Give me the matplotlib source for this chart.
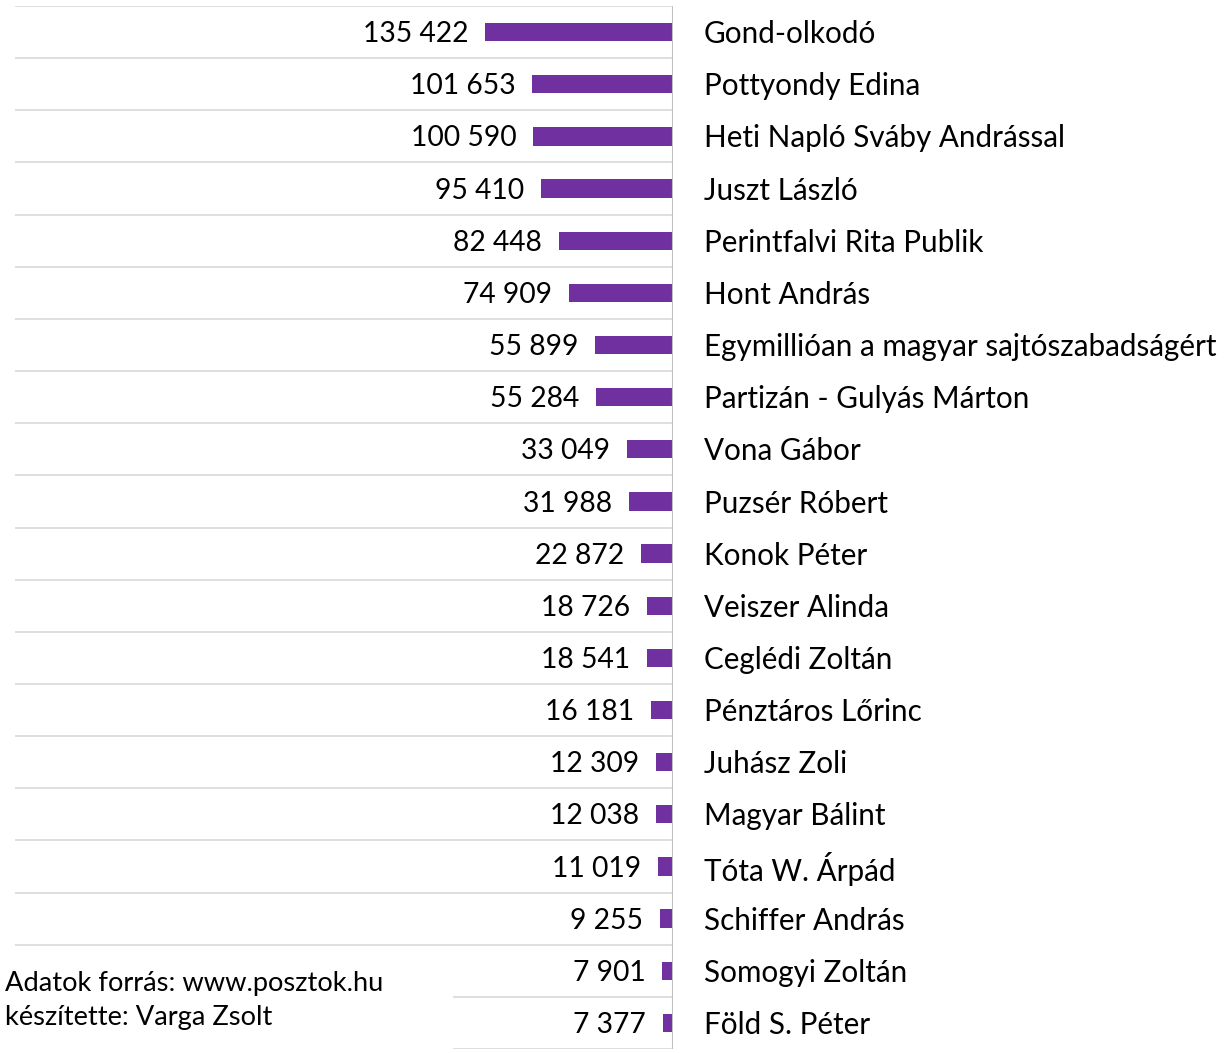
import matplotlib.pyplot as plt
from matplotlib.patches import Rectangle
from matplotlib.transforms import blended_transform_factory

plt.rcParams['font.family'] = ['Lato', 'DejaVu Sans']

nevek = ["Gond-olkodó", "Pottyondy Edina", "Heti Napló Sváby Andrással", "Juszt László",
         "Perintfalvi Rita Publik", "Hont András", "Egymillióan a magyar sajtószabadságért",
         "Partizán - Gulyás Márton", "Vona Gábor", "Puzsér Róbert", "Konok Péter",
         "Veiszer Alinda", "Ceglédi Zoltán", "Pénztáros Lőrinc", "Juhász Zoli",
         "Magyar Bálint", "Tóta W. Árpád", "Schiffer András", "Somogyi Zoltán", "Föld S. Péter"]
ertekek = [135422, 101653, 100590, 95410, 82448, 74909, 55899, 55284, 33049, 31988,
           22872, 18726, 18541, 16181, 12309, 12038, 11019, 9255, 7901, 7377]

lila = "#7030A0"
racs = "#D9D9D9"

fig = plt.figure(figsize=(12.3, 10.53), dpi=100)
ax = fig.add_axes([15 / 1230, 4 / 1053, 658 / 1230, 1043 / 1053])

y = list(range(len(nevek)))
ax.barh(y, ertekek, height=0.35, color=lila, zorder=3)
ax.set_xlim(474000, 0)
ax.set_ylim(len(nevek) - 0.5, -0.5)

# vízszintes rácsvonalak a sorok között
for i in range(len(nevek) + 1):
    ax.axhline(i - 0.5, color=racs, lw=1.2, zorder=1)
ax.axvline(0, color="#BFBFBF", lw=1.5, zorder=4)

for s in ax.spines.values():
    s.set_visible(False)
ax.set_xticks([])
ax.set_yticks([])

for i, v in enumerate(ertekek):
    ax.annotate(f"{v:,}".replace(",", " "), (v, i), xytext=(-12, -1.5), textcoords="offset points",
                ha="right", va="center", fontsize=20.3)

tr = blended_transform_factory(ax.transAxes, ax.transData)
for i, nev in enumerate(nevek):
    ax.annotate(nev, (1.047, i), xycoords=tr, xytext=(0, -1.5), textcoords="offset points",
                ha="left", va="center", fontsize=21.3)

# a forrás-szöveg eltakarja az alsó rácsvonalak bal oldalát
fig.patches.append(Rectangle((0, 0), 453 / 1230, 100 / 1053, transform=fig.transFigure,
                             facecolor="white", edgecolor="none", zorder=5))
fig.text(5 / 1230, 1 - 983 / 1053, "Adatok forrás: www.posztok.hu", ha="left", va="center",
         fontsize=19.6, zorder=6)
fig.text(5 / 1230, 1 - 1018 / 1053, "készítette: Varga Zsolt", ha="left", va="center",
         fontsize=19.6, zorder=6)

fig.savefig("out.png", dpi=100)
